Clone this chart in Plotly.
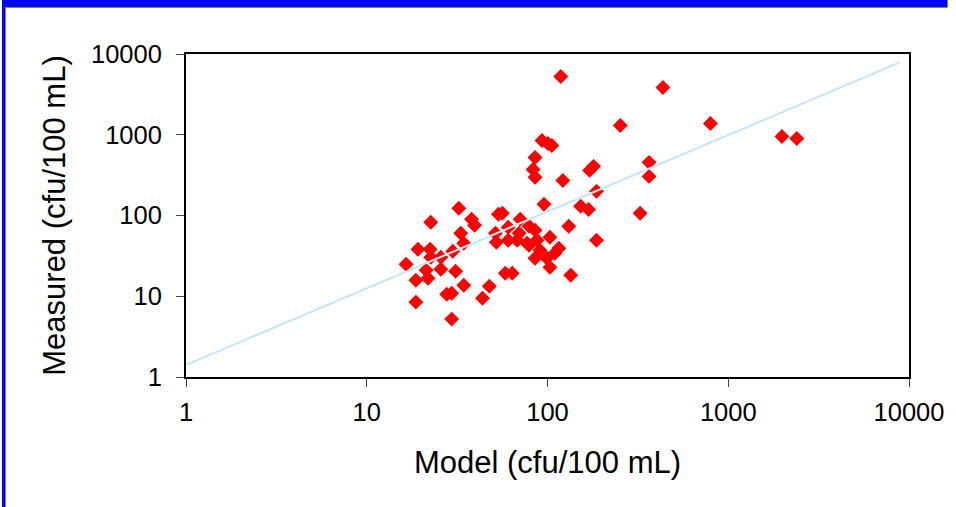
import plotly.graph_objects as go

# Model vs measured (cfu/100 mL)
model = [16.5, 19.2, 22.4, 22.6, 25.7, 29.9, 32.3, 38.0, 39.5, 33.1,
         34.4, 21.3, 21.8, 18.7, 25.7, 31.0, 34.4, 27.7, 29.5, 18.7,
         29.5, 47.7, 43.7, 22.6, 56.2, 51.5, 52.1, 60.6, 67.9, 70.6,
         79.1, 85.3, 77.1, 87.5, 103.1, 115.5, 90.8, 85.3, 99.2, 103.1,
         95.6, 58.4, 63.8, 60.6, 69.7, 109.8, 79.1, 118.4, 93.2, 100.5,
         105.7, 85.3, 83.2, 85.3, 121.5, 170.9, 179.7, 186.6, 252.7, 435.0,
         797.0, 1981, 2393, 364.5, 364.5, 325.3, 152.5, 168.7, 131.1, 186.6,
         134.4, 53.5]
measured = [24.9, 38.2, 38.2, 82.4, 30.4, 36.1, 122.7, 89.8, 75.7, 60.3,
            45.3, 21.0, 16.7, 15.8, 21.6, 20.4, 13.7, 10.6, 10.9, 8.46,
            5.21, 13.3, 9.47, 30.4, 106.5, 60.3, 46.6, 49.4, 49.4, 89.8,
            73.5, 65.6, 45.3, 49.4, 53.8, 39.3, 37.1, 29.6, 29.6, 22.9,
            137.5, 19.3, 19.3, 71.5, 60.3, 34.1, 42.8, 5255, 850, 781,
            738, 524, 372, 297, 272, 362, 406, 199, 1303, 3843,
            1379, 953, 900, 455, 305, 106.5, 130, 119, 73.5, 49.4,
            18.2, 103.5]

# trend line end points
line_x = [1, 8900]
line_y = [1.41, 7900]

tick_vals = [1, 10, 100, 1000, 10000]
tick_text = ["1", "10", "100", "1000", "10000"]

x_title = "Model (cfu/100 mL)"
y_title = "Measured (cfu/100 mL)"

FONT = "Liberation Sans, Arial, sans-serif"

fig = go.Figure()
fig.add_trace(go.Scatter(
    x=model, y=measured, mode="markers",
    marker=dict(symbol="diamond", size=11.5, color="#FF0000", line=dict(width=0)),
    showlegend=False, cliponaxis=False))
fig.add_trace(go.Scatter(
    x=line_x, y=line_y, mode="lines",
    line=dict(color="#C4E6FA", width=2),
    showlegend=False))

W, H = 956, 507
L, R, T, B = 186, 39, 54, 130
pw, ph = W - L - R, H - T - B

def px(x):
    return (x - L) / pw

def py(y):
    return (H - B - y) / ph

shapes = [
    dict(type="rect", xref="paper", yref="paper", x0=px(0), x1=px(3), y0=py(H), y1=py(0),
         fillcolor="#0000FF", line=dict(width=0), layer="above"),
    dict(type="rect", xref="paper", yref="paper", x0=px(0), x1=px(W), y0=py(7), y1=py(0),
         fillcolor="#0000FF", line=dict(width=0), layer="above"),
    dict(type="line", xref="paper", yref="paper", x0=px(3), x1=px(W), y0=py(7.5), y1=py(7.5),
         line=dict(color="#808080", width=1)),
    dict(type="line", xref="paper", yref="paper", x0=px(3.5), x1=px(3.5), y0=py(H), y1=py(7),
         line=dict(color="#808080", width=1)),
]

axis_common = dict(
    type="log", range=[0, 4], tickvals=tick_vals, ticktext=tick_text,
    showgrid=False, zeroline=False, showline=True, mirror=True,
    linecolor="black", linewidth=2, ticks="outside", ticklen=8, tickwidth=1,
    tickcolor="#444444", tickfont=dict(family=FONT, size=25.5, color="black"),
)

fig.update_layout(
    width=W, height=H,
    margin=dict(l=L, r=R, t=T, b=B),
    paper_bgcolor="white", plot_bgcolor="white",
    xaxis=dict(**axis_common, ticklabelstandoff=3,
               title=dict(text=x_title, font=dict(family=FONT, size=31, color="black"), standoff=27)),
    yaxis=dict(**axis_common, ticklabelstandoff=9,
               title=dict(text=y_title, font=dict(family=FONT, size=31, color="black"), standoff=16)),
    shapes=shapes,
)

fig.write_html("out.html")
